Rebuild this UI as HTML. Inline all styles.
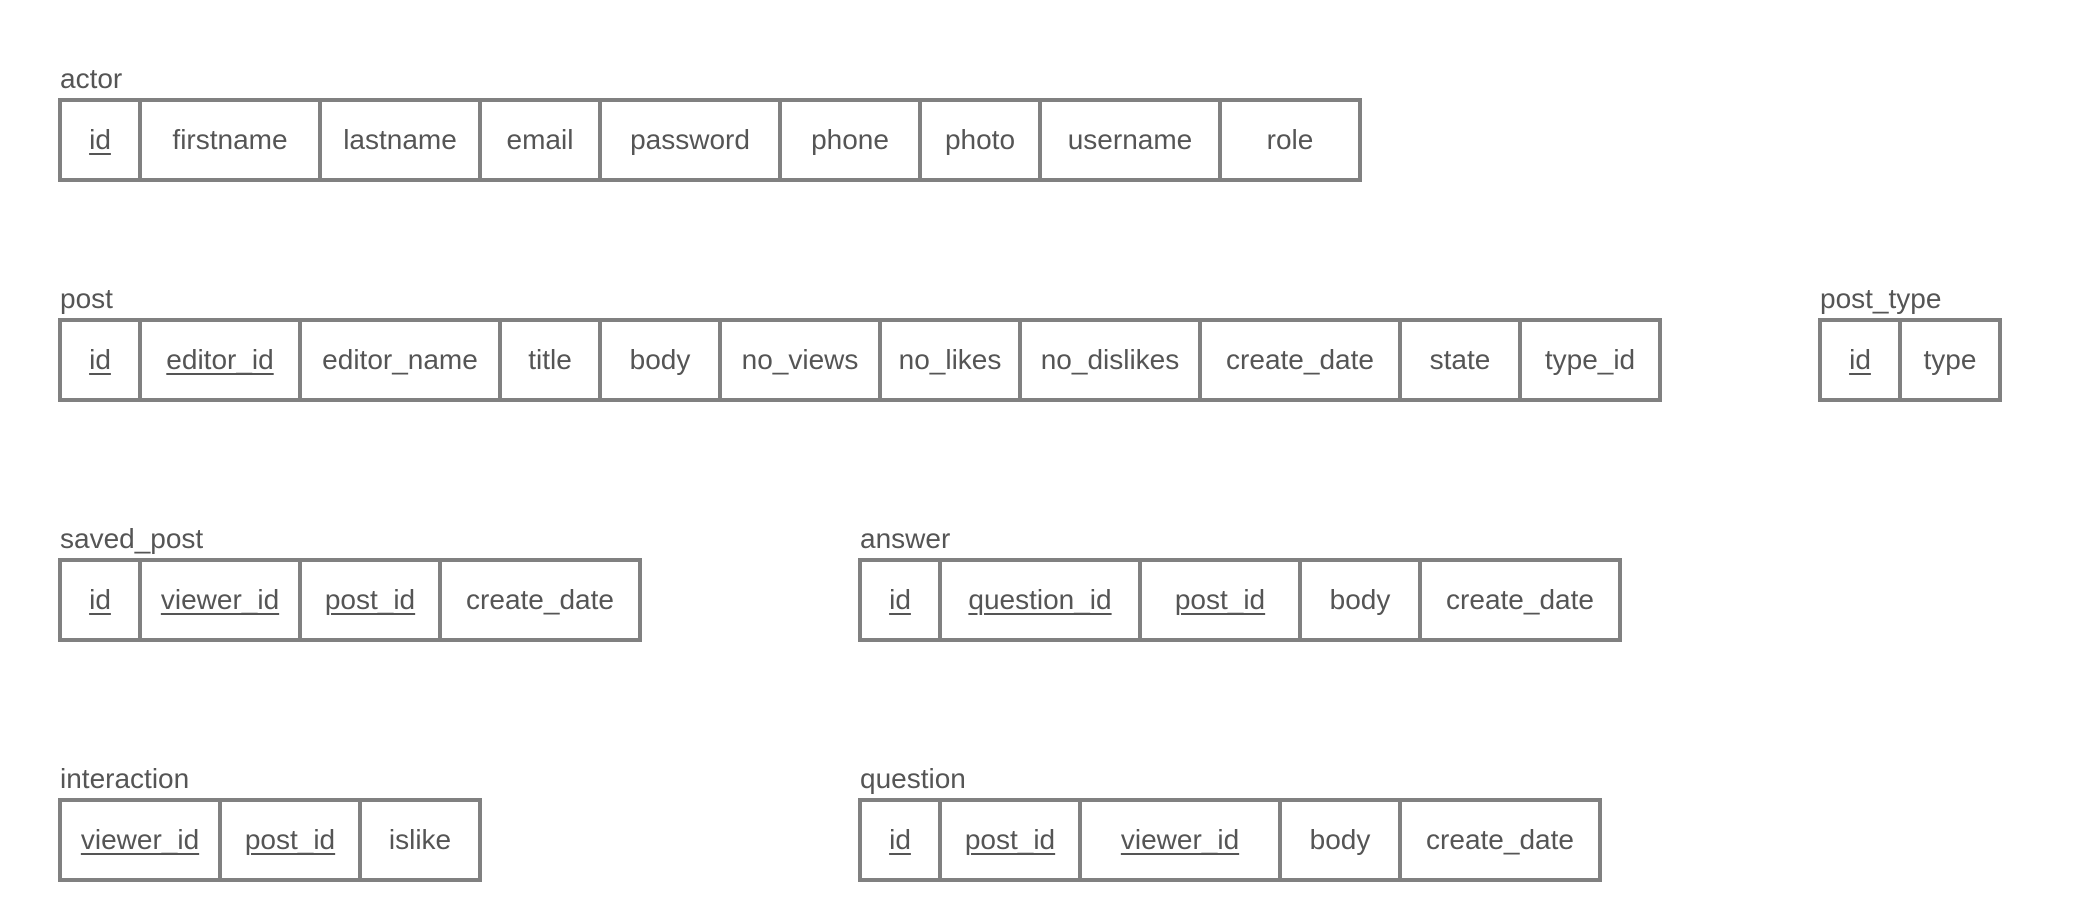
<!DOCTYPE html>
<html><head><meta charset="utf-8"><style>
body{margin:0;width:2080px;height:920px;background:#fff;position:relative;overflow:hidden;font-family:"Liberation Sans","DejaVu Sans",sans-serif;color:#555}
.lbl{position:absolute;font-size:28px;line-height:28px;color:#555}
.cell{position:absolute;box-sizing:border-box;border:4px solid #808080;display:flex;align-items:center;justify-content:center;font-size:28px;color:#555;background:#fff}
.key{text-decoration:underline;text-underline-offset:4px;text-decoration-thickness:2px}
</style></head><body>
<script>
const tables=[
 {name:"actor",x:60,y:100,cols:[["id",1],["firstname",0],["lastname",0],["email",0],["password",0],["phone",0],["photo",0],["username",0],["role",0]],edges:[60,140,320,480,600,780,920,1040,1220,1360]},
 {name:"post",x:60,y:320,cols:[["id",1],["editor_id",1],["editor_name",0],["title",0],["body",0],["no_views",0],["no_likes",0],["no_dislikes",0],["create_date",0],["state",0],["type_id",0]],edges:[60,140,300,500,600,720,880,1020,1200,1400,1520,1660]},
 {name:"post_type",x:1820,y:320,cols:[["id",1],["type",0]],edges:[1820,1900,2000]},
 {name:"saved_post",x:60,y:560,cols:[["id",1],["viewer_id",1],["post_id",1],["create_date",0]],edges:[60,140,300,440,640]},
 {name:"answer",x:860,y:560,cols:[["id",1],["question_id",1],["post_id",1],["body",0],["create_date",0]],edges:[860,940,1140,1300,1420,1620]},
 {name:"interaction",x:60,y:800,cols:[["viewer_id",1],["post_id",1],["islike",0]],edges:[60,220,360,480]},
 {name:"question",x:860,y:800,cols:[["id",1],["post_id",1],["viewer_id",1],["body",0],["create_date",0]],edges:[860,940,1080,1280,1400,1600]}
];
tables.forEach(t=>{
 const l=document.createElement('div');
 l.className='lbl';
 l.style.left=(t.x)+'px';l.style.top=(t.y-35)+'px';
 l.textContent=t.name;
 
 
 document.body.appendChild(l);
 t.cols.forEach((c,i)=>{
  const d=document.createElement('div');
  d.className='cell';
  const x0=t.edges[i],x1=t.edges[i+1];
  d.style.left=(x0-2)+'px';d.style.top=(t.y-2)+'px';
  d.style.width=(x1-x0+4)+'px';d.style.height='84px';
  const s=document.createElement('span');
  if(c[1])s.className='key';
  s.textContent=c[0];
  d.appendChild(s);
  
  
  document.body.appendChild(d);
 });
});
</script>
</body></html>
